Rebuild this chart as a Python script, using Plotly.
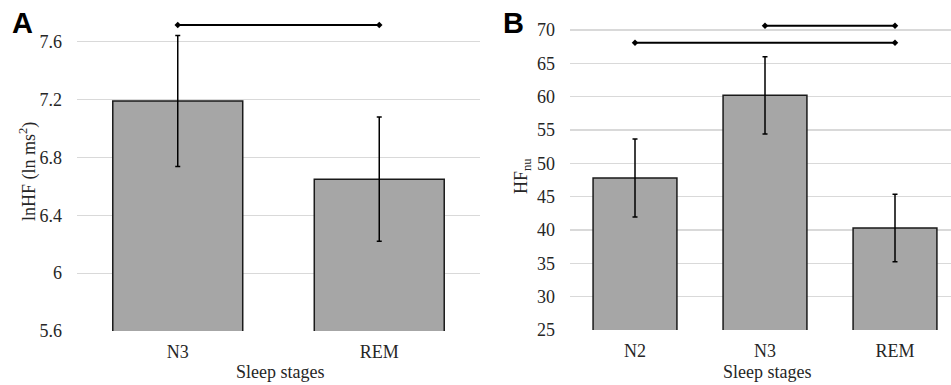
import plotly.graph_objects as go

# ---- Data ----
stages_a = ["N3", "REM"]
lnhf_mean = [7.19, 6.65]
lnhf_sd = [0.453, 0.43]
sig_a_x = ["N3", "REM"]
sig_a_y = [7.716, 7.716]

stages_b = ["N2", "N3", "REM"]
hfnu_mean = [47.8, 60.2, 40.3]
hfnu_sd = [5.85, 5.8, 5.05]
sig_b1_x = ["N3", "REM"]
sig_b1_y = [70.65, 70.65]
sig_b2_x = ["N2", "REM"]
sig_b2_y = [68.1, 68.1]

ticks_a = [5.6, 6.0, 6.4, 6.8, 7.2, 7.6]
ticktext_a = ["5.6", "6", "6.4", "6.8", "7.2", "7.6"]
ticks_b = [25, 30, 35, 40, 45, 50, 55, 60, 65, 70]

W, H = 951, 385
FONT = "Liberation Serif, Times New Roman, serif"
SANS = "Liberation Sans, Arial, sans-serif"
TXT = "#262626"
BAR = "#a6a6a6"
GRID = "#d9d9d9"

fig = go.Figure()

fig.add_trace(go.Bar(
    x=stages_a, y=lnhf_mean,
    marker=dict(color=BAR, line=dict(color="#1a1a1a", width=1.5)),
    error_y=dict(type="data", array=lnhf_sd, color="black", thickness=1.5, width=2.5),
    xaxis="x", yaxis="y", showlegend=False, hoverinfo="skip"))

fig.add_trace(go.Bar(
    x=stages_b, y=hfnu_mean,
    marker=dict(color=BAR, line=dict(color="#1a1a1a", width=1.5)),
    error_y=dict(type="data", array=hfnu_sd, color="black", thickness=1.5, width=2.5),
    xaxis="x2", yaxis="y2", showlegend=False, hoverinfo="skip"))

for xs, ys, xa, ya in [(sig_a_x, sig_a_y, "x", "y"),
                       (sig_b1_x, sig_b1_y, "x2", "y2"),
                       (sig_b2_x, sig_b2_y, "x2", "y2")]:
    fig.add_trace(go.Scatter(
        x=xs, y=ys, mode="lines+markers",
        line=dict(color="black", width=2),
        marker=dict(symbol="diamond", size=5, color="black"),
        xaxis=xa, yaxis=ya, showlegend=False, cliponaxis=False, hoverinfo="skip"))

def px_x(p):
    return p / W

def px_y(p):
    return (H - p) / H

# Panel B extends beyond right edge: category width 130px, plot from 570 to 951
b_left, b_right = 570, 951
b_range_hi = -0.5 + (b_right - b_left) / 130.0

tf = dict(family=FONT, size=18, color=TXT)

fig.update_layout(
    template="none",
    width=W, height=H,
    margin=dict(l=0, r=0, t=0, b=0, autoexpand=False),
    paper_bgcolor="white", plot_bgcolor="white",
    font=dict(family=FONT, size=18, color=TXT),
    bargap=0.355,
    hovermode=False,
    xaxis=dict(domain=[px_x(77), px_x(480)], type="category", range=[-0.5, 1.5],
               showgrid=False, showline=False, zeroline=False, ticks="",
               ticklabelstandoff=8, anchor="y", tickfont=tf, automargin=False),
    yaxis=dict(domain=[px_y(331), px_y(13)], range=[5.6, 5.6 + (331 - 13) / 144.6],
               tickvals=ticks_a, ticktext=ticktext_a,
               showgrid=True, gridcolor=GRID, gridwidth=1.2, zeroline=False,
               showline=False, ticks="", ticklabelstandoff=14, anchor="x",
               tickfont=tf, automargin=False),
    xaxis2=dict(domain=[px_x(b_left), 1.0], type="category", range=[-0.5, b_range_hi],
                showgrid=False, showline=False, zeroline=False, ticks="",
                ticklabelstandoff=8, anchor="y2", tickfont=tf, automargin=False),
    yaxis2=dict(domain=[px_y(330), px_y(13)], range=[25, 25 + (330 - 13) / 6.667],
                tickvals=ticks_b,
                showgrid=True, gridcolor=GRID, gridwidth=1.2, zeroline=False,
                showline=False, ticks="", ticklabelstandoff=14, anchor="x2",
                tickfont=tf, automargin=False),
)

annotations = [
    dict(text="<b>A</b>", x=px_x(10), y=px_y(23), xanchor="left", yanchor="middle",
         font=dict(family=SANS, size=29, color="black")),
    dict(text="<b>B</b>", x=px_x(501), y=px_y(23), xanchor="left", yanchor="middle",
         font=dict(family=SANS, size=29, color="black")),
    dict(text="lnHF (ln ms<sup>2</sup>)", x=px_x(28), y=px_y(172), textangle=-90,
         xanchor="center", yanchor="middle", font=tf),
    dict(text="HF<sub>nu</sub>", x=px_x(522), y=px_y(176), textangle=-90,
         xanchor="center", yanchor="middle", font=tf),
    dict(text="Sleep stages", x=px_x(280), y=px_y(372), xanchor="center",
         yanchor="middle", font=tf),
    dict(text="Sleep stages", x=px_x(767), y=px_y(372), xanchor="center",
         yanchor="middle", font=tf),
]
for a in annotations:
    a.update(xref="paper", yref="paper", showarrow=False)
fig.update_layout(annotations=annotations)

fig.write_html(
    "out.html",
    config={"displayModeBar": False, "staticPlot": True},
    post_script="document.body.style.margin='0';document.body.style.padding='0';"
                "document.body.style.overflow='hidden';",
)
